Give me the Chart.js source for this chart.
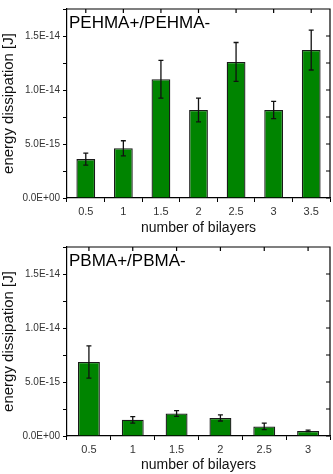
<!DOCTYPE html>
<html>
<head>
<meta charset="utf-8">
<script src="https://cdn.jsdelivr.net/npm/chart.js@4.4.0/dist/chart.umd.min.js"></script>
<style>
  html, body { margin: 0; padding: 0; background: #fff; }
  body { width: 333px; height: 474px; position: relative; overflow: hidden; }
  .box { position: absolute; left: 0; width: 333px; }
</style>
</head>
<body>
<div class="box" style="top:0;height:237px"><canvas id="chartTop"></canvas></div>
<div class="box" style="top:238px;height:236px"><canvas id="chartBottom"></canvas></div>
<script>
// energy dissipation [J] per bilayer count
const pehmaLabels = ['0.5', '1', '1.5', '2', '2.5', '3', '3.5'];
const pehmaValues = [3.6e-15, 4.6e-15, 11.0e-15, 8.15e-15, 12.6e-15, 8.15e-15, 13.7e-15];
const pehmaErrors = [0.55e-15, 0.7e-15, 1.75e-15, 1.1e-15, 1.8e-15, 0.8e-15, 1.85e-15];

const pbmaLabels = ['0.5', '1', '1.5', '2', '2.5', '3'];
const pbmaValues = [6.85e-15, 1.5e-15, 2.08e-15, 1.67e-15, 0.89e-15, 0.47e-15];
const pbmaErrors = [1.5e-15, 0.3e-15, 0.27e-15, 0.28e-15, 0.3e-15, 0.07e-15];

const yMax = 1.75e-14;
const yStep = 2.5e-15;

const FONT = "'Liberation Sans', Arial, sans-serif";

function sci(v) {
    if (Math.abs(v) < 1e-30) return '0.0E+00';
    let e = Math.floor(Math.log10(Math.abs(v)) + 1e-9);
    let m = v / Math.pow(10, e);
    return m.toFixed(1) + 'E' + (e < 0 ? '-' : '+') + String(Math.abs(e)).padStart(2, '0');
}

// error bars, frame (top/right) with inner ticks, panel label
const extras = {
    id: 'extras',
    afterDatasetsDraw(chart, args, opts) {
        const ctx = chart.ctx;
        const y = chart.scales.y;
        const x = chart.scales.x;
        const meta = chart.getDatasetMeta(0);
        const errs = opts.errors;
        const vals = chart.data.datasets[0].data;
        ctx.save();
        ctx.strokeStyle = '#111';
        ctx.lineWidth = 1.3;
        meta.data.forEach((bar, i) => {
            const yt = y.getPixelForValue(vals[i] + errs[i]);
            const yb = y.getPixelForValue(vals[i] - errs[i]);
            ctx.beginPath();
            ctx.moveTo(bar.x, yt); ctx.lineTo(bar.x, yb);
            ctx.moveTo(bar.x - 2.5, yt); ctx.lineTo(bar.x + 2.5, yt);
            ctx.moveTo(bar.x - 2.5, yb); ctx.lineTo(bar.x + 2.5, yb);
            ctx.stroke();
        });
        const a = chart.chartArea;
        ctx.strokeStyle = '#000';
        ctx.lineWidth = 1.2;
        ctx.beginPath();
        ctx.moveTo(a.left, a.top); ctx.lineTo(a.right, a.top); ctx.lineTo(a.right, a.bottom);
        y.ticks.forEach(t => {
            const py = y.getPixelForValue(t.value);
            ctx.moveTo(a.right, py); ctx.lineTo(a.right - 4, py);
        });
        x.ticks.forEach((t, i) => {
            const px = x.getPixelForValue(i);
            ctx.moveTo(px, a.top); ctx.lineTo(px, a.top + 4);
        });
        ctx.stroke();
        ctx.fillStyle = '#000';
        ctx.font = '17px ' + FONT;
        ctx.textBaseline = 'alphabetic';
        ctx.textAlign = 'left';
        ctx.fillText(opts.label, a.left + 2, a.top + 19);
        ctx.restore();
    }
};

function makeChart(id, labels, values, errors, label, topPad, height) {
    const ctx = document.getElementById(id).getContext('2d');
    return new Chart(ctx, {
        type: 'bar',
        data: {
            labels: labels,
            datasets: [{
                data: values,
                backgroundColor: '#008400',
                borderColor: '#1a1a1a',
                borderWidth: 1.3,
                barPercentage: 0.5,
                categoryPercentage: 1.0
            }]
        },
        options: {
            responsive: true,
            maintainAspectRatio: false,
            animation: false,
            layout: { padding: { top: topPad, right: 3, left: 0, bottom: 0 } },
            plugins: {
                legend: { display: false },
                tooltip: { enabled: false },
                extras: { errors: errors, label: label }
            },
            scales: {
                x: {
                    afterFit: s => { s.height = height - 198; },
                    border: { display: true, color: '#000', width: 1.2 },
                    grid: { offset: true, drawOnChartArea: false, drawTicks: true, tickLength: 4, color: '#000' },
                    ticks: { color: '#333', padding: 3, font: { family: FONT, size: 11 }, maxRotation: 0 },
                    title: { display: true, text: 'number of bilayers', color: '#111', padding: { top: 0, bottom: 0 }, font: { family: FONT, size: 14 } }
                },
                y: {
                    min: 0,
                    max: yMax,
                    afterFit: s => { s.width = 67; },
                    border: { display: true, color: '#000', width: 1.2 },
                    grid: { drawOnChartArea: false, drawTicks: true, tickLength: 4, color: '#000' },
                    ticks: {
                        stepSize: yStep,
                        color: '#333',
                        padding: 3,
                        font: { family: FONT, size: 10 },
                        callback: v => (Math.round(v / yStep) % 2 === 0 ? sci(v) : '')
                    },
                    title: { display: true, text: 'energy dissipation [J]', color: '#111', padding: 0, font: { family: FONT, size: 15 } }
                }
            }
        },
        plugins: [extras]
    });
}

makeChart('chartTop', pehmaLabels, pehmaValues, pehmaErrors, 'PEHMA+/PEHMA-', 3, 237);
makeChart('chartBottom', pbmaLabels, pbmaValues, pbmaErrors, 'PBMA+/PBMA-', 4, 236);
</script>
</body>
</html>
